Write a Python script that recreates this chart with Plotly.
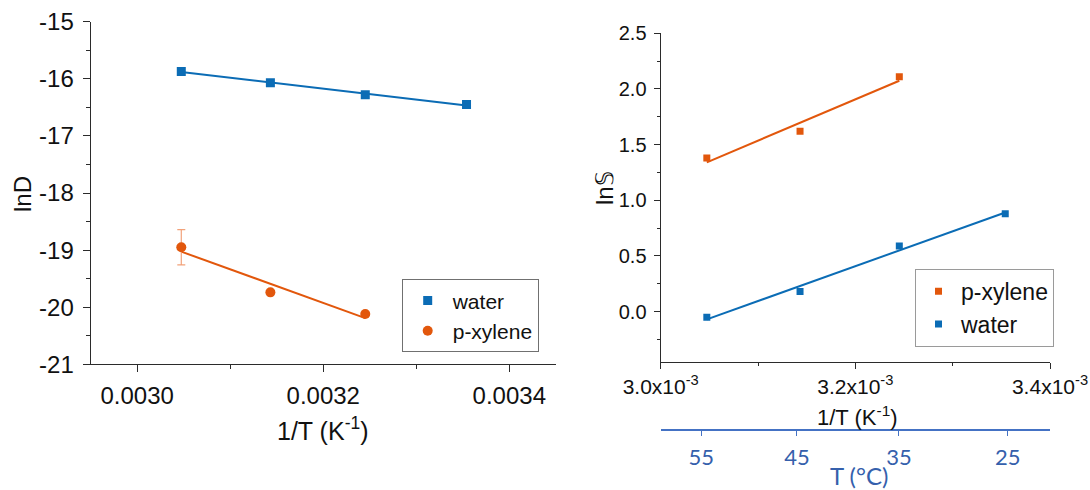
import numpy as np
import plotly.graph_objects as go

# Temperatures of the measurements and their reciprocal absolute values
temp_c = [55, 45, 35, 25]
inv_temp = [1.0 / (t + 273.15) for t in temp_c]

# Left panel: ln of the diffusion coefficient
lnD_water = [-15.87, -16.07, -16.28, -16.45]
lnD_pxylene = [-18.95, -19.74, -20.12]
lnD_pxylene_err = [0.31, None, None]

# Right panel: ln of the solubility
lnS_pxylene = [1.38, 1.62, 2.11]
lnS_water = [-0.05, 0.18, 0.59, 0.88]

left_xticks = [0.0030, 0.0032, 0.0034]
left_yticks = [-21, -20, -19, -18, -17, -16, -15]
right_xticks = [0.0030, 0.0032, 0.0034]
right_xlabels = ["3.0x10<sup>-3</sup>", "3.2x10<sup>-3</sup>", "3.4x10<sup>-3</sup>"]
right_yticks = [0.0, 0.5, 1.0, 1.5, 2.0, 2.5]

BLUE = "#0B6CB5"
ORANGE = "#E2570C"
ERR_ORANGE = "#F2A27A"
AXIS = "#2b2b2b"
T_BLUE = "#4472C4"
T_TEXT = "#3560AC"
FONT = "Liberation Sans, Arial, sans-serif"

W, H = 1090, 490


def fx(px):
    return px / W


def fy(py):
    return 1 - py / H


def fit_line(x, y):
    coef = np.polyfit(x, y, 1)
    xs = np.array([x[0], x[-1]])
    return xs, np.polyval(coef, xs)


fig = go.Figure()

# ---- left panel ----
n_px = len(lnD_pxylene)
xs, ys = fit_line(inv_temp, lnD_water)
fig.add_trace(go.Scatter(x=xs, y=ys, mode="lines", line=dict(color=BLUE, width=2),
                         showlegend=False, hoverinfo="skip", xaxis="x", yaxis="y"))
xs, ys = fit_line(inv_temp[:n_px], lnD_pxylene)
fig.add_trace(go.Scatter(x=xs, y=ys, mode="lines", line=dict(color=ORANGE, width=2),
                         showlegend=False, hoverinfo="skip", xaxis="x", yaxis="y"))
fig.add_trace(go.Scatter(x=inv_temp, y=lnD_water, mode="markers", name="water",
                         marker=dict(symbol="square", size=9, color=BLUE),
                         xaxis="x", yaxis="y", legend="legend"))
fig.add_trace(go.Scatter(x=inv_temp[:n_px], y=lnD_pxylene, mode="markers", name="p-xylene",
                         marker=dict(symbol="circle", size=10, color=ORANGE),
                         error_y=dict(type="data", array=lnD_pxylene_err, color=ERR_ORANGE,
                                      thickness=1.2, width=4),
                         xaxis="x", yaxis="y", legend="legend"))

# ---- right panel ----
xs, ys = fit_line(inv_temp[:n_px], lnS_pxylene)
fig.add_trace(go.Scatter(x=xs, y=ys, mode="lines", line=dict(color=ORANGE, width=2),
                         showlegend=False, hoverinfo="skip", xaxis="x2", yaxis="y2"))
xs, ys = fit_line(inv_temp, lnS_water)
fig.add_trace(go.Scatter(x=xs, y=ys, mode="lines", line=dict(color=BLUE, width=2),
                         showlegend=False, hoverinfo="skip", xaxis="x2", yaxis="y2"))
fig.add_trace(go.Scatter(x=inv_temp[:n_px], y=lnS_pxylene, mode="markers", name="p-xylene",
                         marker=dict(symbol="square", size=7, color=ORANGE),
                         xaxis="x2", yaxis="y2", legend="legend2"))
fig.add_trace(go.Scatter(x=inv_temp, y=lnS_water, mode="markers", name="water",
                         marker=dict(symbol="square", size=7, color=BLUE),
                         xaxis="x2", yaxis="y2", legend="legend2"))
# hidden trace that binds the Celsius scale to the right panel
fig.add_trace(go.Scatter(x=inv_temp, y=lnS_water, mode="markers", marker=dict(opacity=0),
                         showlegend=False, hoverinfo="skip", xaxis="x3", yaxis="y2"))

common_axis = dict(showline=True, linecolor=AXIS, linewidth=1.3, showgrid=False,
                   zeroline=False, ticks="outside", tickcolor=AXIS, tickwidth=1.3,
                   automargin=False, mirror=False)

fig.update_layout(
    width=W, height=H,
    margin=dict(l=0, r=0, t=0, b=0),
    paper_bgcolor="white", plot_bgcolor="white",
    font=dict(family=FONT, color="#111111"),
    xaxis=dict(**common_axis, domain=[fx(90.7), fx(555.8)], range=[0.00295, 0.00345],
               anchor="y", tickvals=left_xticks, ticktext=[f"{v:.4f}" for v in left_xticks],
               ticklen=7, tickfont=dict(size=24), ticklabelstandoff=3,
               minor=dict(ticks="outside", ticklen=4, dtick=0.0001, tick0=0.003,
                          tickcolor=AXIS, tickwidth=1.3)),
    yaxis=dict(**common_axis, domain=[fy(364.3), fy(21.7)], range=[-21, -15],
               anchor="x", tickvals=left_yticks, ticktext=[f"{v:d}" for v in left_yticks],
               ticklen=7, tickfont=dict(size=24), ticklabelstandoff=4,
               minor=dict(ticks="outside", ticklen=4, dtick=0.5, tick0=-21,
                          tickcolor=AXIS, tickwidth=1.3)),
    xaxis2=dict(**common_axis, domain=[fx(660.7), fx(1050)], range=[0.0030, 0.0034],
                anchor="y2", tickvals=right_xticks, ticktext=right_xlabels,
                ticklen=6, tickfont=dict(size=21), ticklabelstandoff=0,
                minor=dict(ticks="outside", ticklen=3, dtick=0.0001, tick0=0.003,
                           tickcolor=AXIS, tickwidth=1.3)),
    yaxis2=dict(**common_axis, domain=[fy(361.7), fy(33.3)], range=[-0.45, 2.5],
                anchor="x2", tickvals=right_yticks,
                ticktext=[f"{v:.1f}" for v in right_yticks],
                ticklen=6, tickfont=dict(size=20), ticklabelstandoff=3,
                minor=dict(ticks="outside", ticklen=3, dtick=0.25, tick0=0,
                           tickcolor=AXIS, tickwidth=1.3)),
    # temperature scale in degrees Celsius under the right panel
    xaxis3=dict(overlaying="x2", anchor="free", position=fy(430), side="bottom",
                range=[0.0030069, 0.0033962], tickvals=inv_temp,
                ticktext=[str(t) for t in temp_c], showline=True, linecolor=T_BLUE,
                linewidth=1.5, ticks="outside", ticklen=5, tickcolor=T_BLUE,
                tickwidth=1.3, showgrid=False, zeroline=False, automargin=False,
                tickfont=dict(family="Lato, sans-serif", size=22, color=T_TEXT),
                ticklabelstandoff=3),
    legend=dict(x=fx(401.7), y=fy(279.3), xanchor="left", yanchor="top",
                bordercolor="#707070", borderwidth=1, bgcolor="white",
                font=dict(size=21, family=FONT), itemwidth=40, tracegroupgap=0),
    legend2=dict(x=fx(915), y=fy(268.7), xanchor="left", yanchor="top",
                 bordercolor="#9a9a9a", borderwidth=1, bgcolor="white",
                 font=dict(size=23, family=FONT), itemwidth=35, tracegroupgap=0),
)

titles = [
    dict(text="lnD", x=fx(22), y=fy(194), textangle=-90, size=24, color="#111111", family=FONT),
    dict(text="1/T (K<sup>-1</sup>)", x=fx(323), y=fy(429), textangle=0, size=25,
         color="#111111", family=FONT),
    dict(text="ln\U0001D54A", x=fx(605), y=fy(188), textangle=-90, size=24,
         color="#111111", family=FONT),
    dict(text="1/T (K<sup>-1</sup>)", x=fx(857), y=fy(416), textangle=0, size=22,
         color="#111111", family=FONT),
    dict(text="T (°C)", x=fx(859), y=fy(475), textangle=0, size=24, color=T_TEXT,
         family="Lato, sans-serif"),
]
for t in titles:
    fig.add_annotation(text=t["text"], x=t["x"], y=t["y"], xref="paper", yref="paper",
                       xanchor="center", yanchor="middle", showarrow=False,
                       textangle=t["textangle"],
                       font=dict(size=t["size"], color=t["color"], family=t["family"]))

fig.write_html("out.html")
